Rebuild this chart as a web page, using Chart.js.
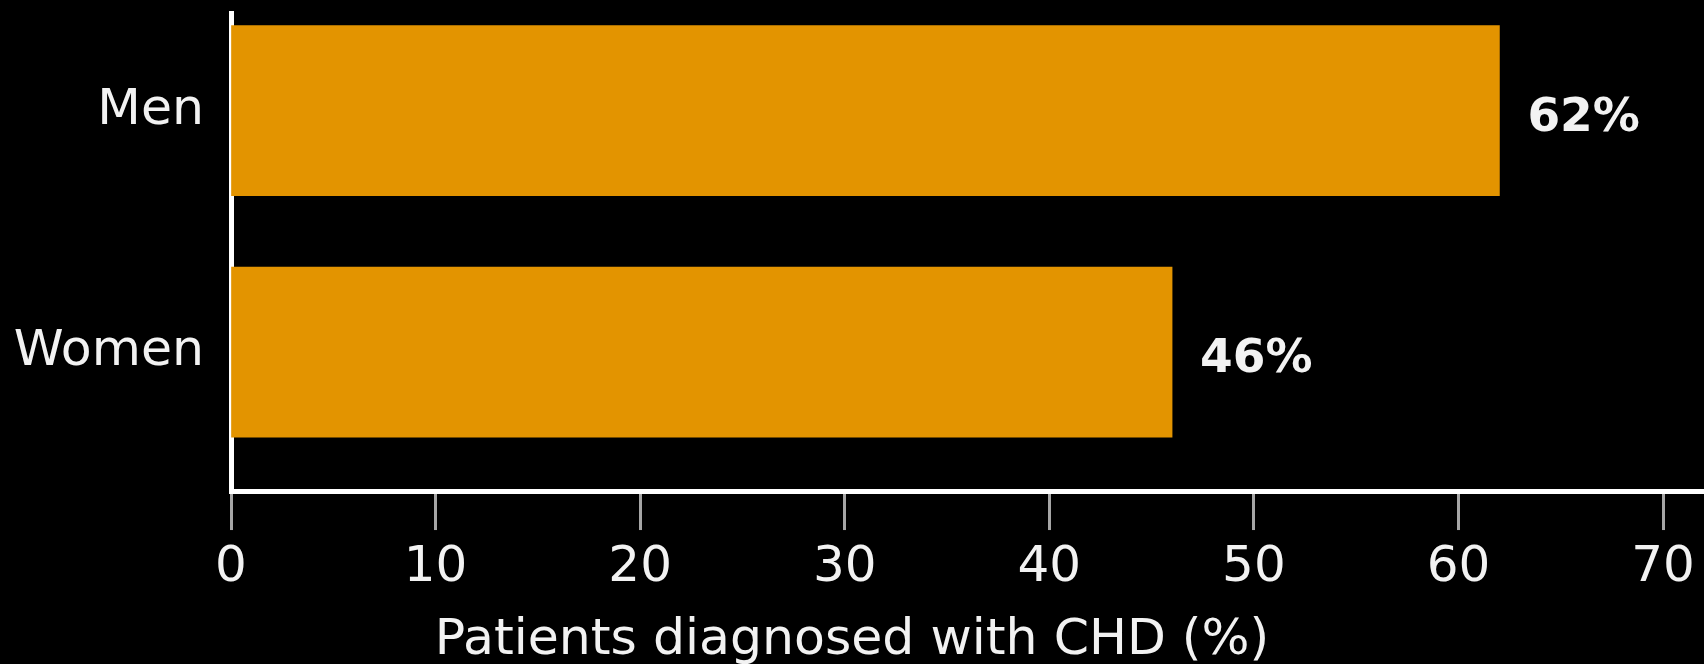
<!DOCTYPE html>
<html>
<head>
<meta charset="utf-8">
<title>Patients diagnosed with CHD</title>
<script src="https://cdn.jsdelivr.net/npm/chart.js@4.4.1/dist/chart.umd.min.js"></script>
<style>
  html, body { margin: 0; padding: 0; background: #000; }
  #chart { display: block; }
</style>
</head>
<body>
<canvas id="chart" width="1704" height="664"></canvas>
<script>
// Share of patients diagnosed with coronary heart disease, by sex
const categories = ['Men', 'Women'];
const diagnosedPct = [62, 46];
const xTickValues = [0, 10, 20, 30, 40, 50, 60, 70];
const axisTitle = 'Patients diagnosed with CHD (%)';

const FONT = "'DejaVu Sans', 'Liberation Sans', Arial, sans-serif";
const TEXT = '#f2f2f2';
const BAR = '#e39400';

// Writes "NN%" just past the end of each bar
const valueLabels = {
  id: 'valueLabels',
  afterDatasetsDraw(chart) {
    const ctx = chart.ctx;
    const meta = chart.getDatasetMeta(0);
    ctx.save();
    ctx.font = 'bold 47px ' + FONT;
    ctx.fillStyle = TEXT;
    ctx.textAlign = 'left';
    ctx.textBaseline = 'middle';
    meta.data.forEach((bar, i) => {
      ctx.fillText(diagnosedPct[i] + '%', bar.x + 28, bar.y + 8);
    });
    ctx.restore();
  }
};

new Chart(document.getElementById('chart'), {
  type: 'bar',
  data: {
    datasets: [{
      data: diagnosedPct.map((v, i) => ({ x: v, y: i })),
      backgroundColor: BAR,
      borderWidth: 0,
      barThickness: 170
    }]
  },
  options: {
    indexAxis: 'y',
    responsive: false,
    animation: false,
    devicePixelRatio: 1,
    layout: { padding: { top: 13, left: 0, right: 0, bottom: 0 } },
    plugins: {
      legend: { display: false },
      tooltip: { enabled: false },
      title: {
        display: true,
        position: 'bottom',
        text: axisTitle,
        color: TEXT,
        font: { family: FONT, size: 50.5, weight: 'normal', lineHeight: 0.92 },
        padding: 0
      }
    },
    scales: {
      x: {
        type: 'linear',
        min: 0,
        max: 72,
        afterBuildTicks: s => { s.ticks = xTickValues.map(v => ({ value: v })); },
        afterFit: s => { s.height = 126.5; },
        border: { display: true, color: '#ffffff', width: 5 },
        grid: {
          drawOnChartArea: false,
          drawTicks: true,
          tickLength: 39,
          tickWidth: 3,
          tickColor: '#a6a6a6'
        },
        ticks: {
          color: TEXT,
          padding: 8,
          maxRotation: 0,
          autoSkip: false,
          font: { family: FONT, size: 50 }
        }
      },
      y: {
        type: 'linear',
        reverse: true,
        offset: false,
        min: -0.404,
        max: 1.575,
        afterBuildTicks: s => { s.ticks = categories.map((c, i) => ({ value: i })); },
        afterFit: s => { s.width = 231; s.paddingTop = 0; s.paddingBottom = 0; },
        border: { display: true, color: '#ffffff', width: 5 },
        grid: { offset: false, drawOnChartArea: false, drawTicks: false },
        ticks: {
          color: TEXT,
          padding: 27,
          font: { family: FONT, size: 50.5 },
          callback: v => categories[v]
        }
      }
    }
  },
  plugins: [valueLabels]
});
</script>
</body>
</html>
